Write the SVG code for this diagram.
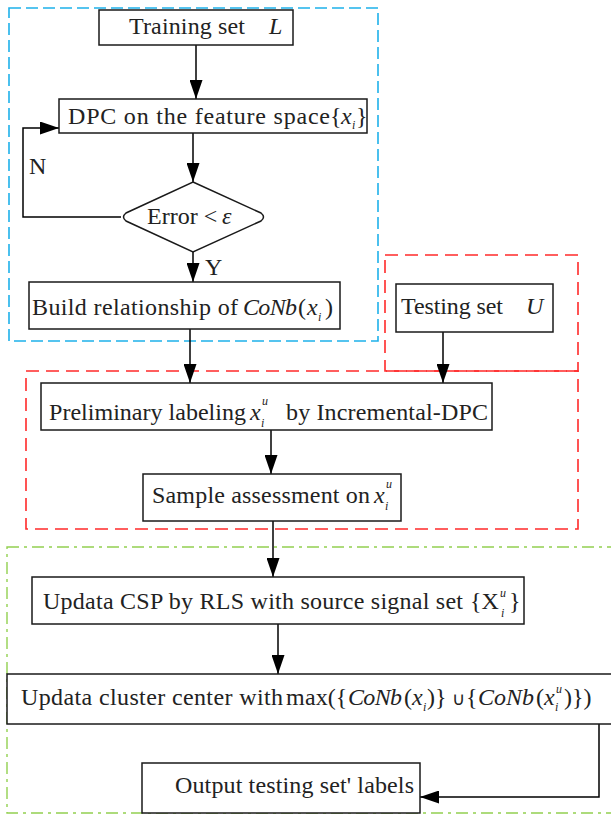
<svg xmlns="http://www.w3.org/2000/svg" width="611" height="816" viewBox="0 0 611 816">
<style>
.box{fill:#fff;stroke:#1a1a1a;stroke-width:1.5}
.t{font-family:"Liberation Serif","Times New Roman",serif;font-size:24px;fill:#222}
.it{font-style:italic}
.s{font-size:12px}
.ln{fill:none;stroke:#000;stroke-width:1.5}
.blue{fill:none;stroke:#1EB1EA;stroke-width:1.6;stroke-dasharray:12 5}
.red{fill:none;stroke:#FF2A2A;stroke-width:1.6;stroke-dasharray:13 7}
.green{fill:none;stroke:#92D050;stroke-width:1.4;stroke-dasharray:12 5 3 5}
</style>
<defs>
<marker id="ah" markerUnits="userSpaceOnUse" markerWidth="20" markerHeight="13" refX="19" refY="6.5" orient="auto">
<path d="M0,0 L19,6.5 L0,13 Z" fill="#000"/>
</marker>
</defs>
<rect width="611" height="816" fill="#fff"/>
<g id="regions">
<rect class="blue" x="9" y="8" width="369" height="333"/>
<rect class="red" x="385" y="255" width="193" height="116"/>
<rect class="red" x="26" y="371" width="552" height="158"/>
<rect class="green" x="7" y="547" width="610" height="266"/>
</g>
<g id="connectors">
<line class="ln" x1="196" y1="45" x2="196" y2="99" marker-end="url(#ah)"/>
<line class="ln" x1="193" y1="133" x2="193" y2="182" marker-end="url(#ah)"/>
<polyline class="ln" points="121,217 23,217 23,128 59,128" marker-end="url(#ah)"/>
<line class="ln" x1="193" y1="252" x2="193" y2="282" marker-end="url(#ah)"/>
<line class="ln" x1="190" y1="329" x2="190" y2="383" marker-end="url(#ah)"/>
<line class="ln" x1="443" y1="332" x2="443" y2="383" marker-end="url(#ah)"/>
<line class="ln" x1="271" y1="430" x2="271" y2="474" marker-end="url(#ah)"/>
<line class="ln" x1="273" y1="521" x2="273" y2="577" marker-end="url(#ah)"/>
<line class="ln" x1="278" y1="624" x2="278" y2="674" marker-end="url(#ah)"/>
<polyline class="ln" points="599,724 599,797 420,797" marker-end="url(#ah)"/>
<text class="t" x="29" y="174">N</text>
<text class="t" x="205" y="275">Y</text>
</g>
<g id="training">
<rect class="box" x="99" y="10" width="194" height="35"/>
<text class="t" x="129" y="34" textLength="116">Training set</text>
<text class="t it" x="269" y="34">L</text>
</g>
<g id="dpc">
<rect class="box" x="59" y="99" width="308" height="34"/>
<text class="t" x="68" y="124" textLength="262">DPC on the feature space</text>
<text class="t" x="330" y="124">{</text>
<text class="t it" x="341" y="124">x</text>
<text class="t it s" x="352" y="129">i</text>
<text class="t" x="356" y="124">}</text>
</g>
<g id="decision">
<path class="box" d="M193,182 L261,213 Q266,217 261,221 L193,252 L126,221 Q121,217 126,213 Z"/>
<text class="t" x="147" y="224">Error &lt;</text>
<text class="t it" x="222" y="224">ε</text>
</g>
<g id="build">
<rect class="box" x="29" y="282" width="311" height="47"/>
<text class="t" x="32" y="315" textLength="206">Build relationship of</text>
<text class="t it" x="243" y="315" textLength="54">CoNb</text>
<text class="t" x="298" y="315">(</text>
<text class="t it" x="307" y="315">x</text>
<text class="t it s" x="318" y="321">i</text>
<text class="t" x="325" y="315">)</text>
</g>
<g id="testing">
<rect class="box" x="396" y="284" width="157" height="48"/>
<text class="t" x="401" y="314" textLength="102">Testing set</text>
<text class="t it" x="526" y="314">U</text>
</g>
<g id="preliminary">
<rect class="box" x="41" y="383" width="451" height="47"/>
<text class="t" x="49" y="420" textLength="197">Preliminary labeling</text>
<text class="t it" x="250" y="420">x</text>
<text class="t it s" x="261" y="427">i</text>
<text class="t it s" x="262" y="405">u</text>
<text class="t" x="286" y="420" textLength="202">by Incremental-DPC</text>
</g>
<g id="sample">
<rect class="box" x="143" y="474" width="258" height="47"/>
<text class="t" x="152" y="503" textLength="218">Sample assessment on</text>
<text class="t it" x="374" y="503">x</text>
<text class="t it s" x="385" y="510">i</text>
<text class="t it s" x="386" y="488">u</text>
</g>
<g id="csp">
<rect class="box" x="32" y="577" width="492" height="47"/>
<text class="t" x="43" y="609" textLength="420">Updata CSP by RLS with source signal set</text>
<text class="t" x="470" y="609">{X</text>
<text class="t it s" x="500" y="597">u</text>
<text class="t it s" x="501" y="617">i</text>
<text class="t" x="509" y="609">}</text>
</g>
<g id="update">
<rect class="box" x="7" y="674" width="610" height="50"/>
<text class="t" x="21" y="705" textLength="262">Updata cluster center with</text>
<text class="t" x="286" y="705">m</text>
<text class="t" x="305" y="705">ax({</text>
<text class="t it" x="348" y="705" textLength="54">CoNb</text>
<text class="t" x="404" y="705">(</text>
<text class="t it" x="412" y="705">x</text>
<text class="t it s" x="423" y="711">i</text>
<text class="t" x="427" y="705">)}</text>
<text class="t" x="452" y="705" style="font-size:18px">∪</text>
<text class="t" x="466" y="705">{</text>
<text class="t it" x="478" y="705" textLength="56">CoNb</text>
<text class="t" x="536" y="705">(</text>
<text class="t it" x="544" y="705">x</text>
<text class="t it s" x="555" y="711">i</text>
<text class="t it s" x="556" y="693">u</text>
<text class="t" x="564" y="705">)})</text>
</g>
<g id="output">
<rect class="box" x="142" y="763" width="278" height="50"/>
<text class="t" x="175" y="793" textLength="239">Output testing set' labels</text>
</g>
</svg>
